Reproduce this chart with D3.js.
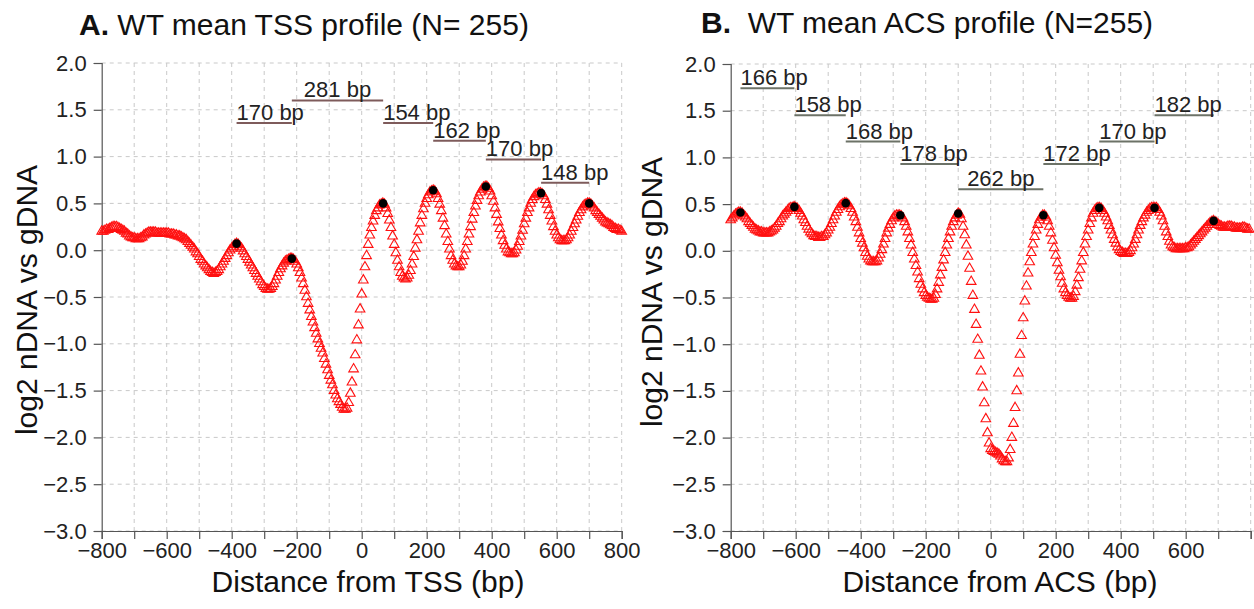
<!DOCTYPE html>
<html>
<head>
<meta charset="utf-8">
<script src="https://cdn.jsdelivr.net/npm/d3@7"></script>
<style>
  body { margin: 0; background: #fff; }
  svg { font-family: "Liberation Sans", Arial, Helvetica, sans-serif; }
</style>
</head>
<body>
<svg id="chart" width="1254" height="609"></svg>
<script>
(function() {

// sampling grid of both profiles (bp)
const step = 5;
const tssStart = -800;
const acsStart = -800;

// A. mean TSS profile, one value every 5 bp from -800 to 800
const tssValues = [
  0.20, 0.20, 0.21, 0.22, 0.22, 0.23, 0.24, 0.25, 0.25, 0.25, 0.24, 0.23, 0.22, 0.21, 0.20, 0.18, 0.17, 0.15, 0.14, 0.13,
  0.13, 0.12, 0.12, 0.12, 0.13, 0.14, 0.16, 0.17, 0.18, 0.19, 0.19, 0.19, 0.19, 0.19, 0.18, 0.18, 0.18, 0.18, 0.18, 0.18,
  0.18, 0.18, 0.17, 0.17, 0.17, 0.16, 0.16, 0.15, 0.15, 0.14, 0.13, 0.12, 0.11, 0.09, 0.07, 0.05, 0.03, 0.01, -0.02, -0.04,
  -0.07, -0.10, -0.12, -0.15, -0.17, -0.19, -0.21, -0.23, -0.24, -0.25, -0.24, -0.23, -0.21, -0.18, -0.15, -0.12, -0.09, -0.06, -0.03, 0.00,
  0.02, 0.04, 0.06, 0.07, 0.06, 0.04, 0.02, -0.01, -0.04, -0.07, -0.10, -0.13, -0.16, -0.19, -0.22, -0.25, -0.28, -0.31, -0.34, -0.37,
  -0.39, -0.41, -0.42, -0.42, -0.41, -0.39, -0.36, -0.32, -0.28, -0.24, -0.20, -0.17, -0.14, -0.12, -0.11, -0.10, -0.09, -0.09, -0.10, -0.12,
  -0.15, -0.19, -0.24, -0.30, -0.36, -0.43, -0.50, -0.57, -0.64, -0.71, -0.77, -0.83, -0.89, -0.95, -1.00, -1.05, -1.10, -1.16, -1.22, -1.28,
  -1.34, -1.39, -1.44, -1.50, -1.55, -1.59, -1.62, -1.65, -1.68, -1.70, -1.70, -1.69, -1.63, -1.53, -1.41, -1.27, -1.12, -0.96, -0.80, -0.63,
  -0.47, -0.32, -0.18, -0.06, 0.06, 0.16, 0.24, 0.31, 0.37, 0.42, 0.45, 0.48, 0.49, 0.50, 0.49, 0.45, 0.39, 0.32, 0.24, 0.15,
  0.06, -0.03, -0.11, -0.18, -0.24, -0.28, -0.30, -0.31, -0.30, -0.27, -0.22, -0.15, -0.07, 0.02, 0.11, 0.20, 0.29, 0.37, 0.44, 0.50,
  0.55, 0.59, 0.62, 0.63, 0.64, 0.63, 0.60, 0.55, 0.49, 0.42, 0.34, 0.26, 0.17, 0.09, 0.01, -0.06, -0.11, -0.15, -0.17, -0.18,
  -0.18, -0.16, -0.12, -0.06, 0.01, 0.09, 0.17, 0.25, 0.33, 0.40, 0.47, 0.53, 0.58, 0.62, 0.65, 0.67, 0.68, 0.68, 0.66, 0.63,
  0.58, 0.52, 0.45, 0.38, 0.30, 0.23, 0.16, 0.10, 0.05, 0.01, -0.02, -0.03, -0.04, -0.04, -0.03, 0.00, 0.04, 0.09, 0.15, 0.21,
  0.28, 0.34, 0.40, 0.45, 0.50, 0.54, 0.57, 0.59, 0.60, 0.61, 0.61, 0.60, 0.58, 0.54, 0.49, 0.43, 0.37, 0.31, 0.25, 0.20,
  0.16, 0.13, 0.11, 0.10, 0.10, 0.10, 0.11, 0.13, 0.16, 0.20, 0.24, 0.28, 0.32, 0.36, 0.40, 0.43, 0.46, 0.48, 0.49, 0.50,
  0.50, 0.49, 0.47, 0.45, 0.42, 0.40, 0.38, 0.36, 0.34, 0.32, 0.30, 0.29, 0.28, 0.27, 0.26, 0.24, 0.23, 0.22, 0.22, 0.21, 0.20
];

// B. mean ACS profile, one value every 5 bp from -800 to 795
const acsValues = [
  0.33, 0.35, 0.37, 0.39, 0.40, 0.41, 0.41, 0.40, 0.38, 0.36, 0.34, 0.31, 0.29, 0.27, 0.25, 0.23, 0.22, 0.21, 0.20, 0.20,
  0.19, 0.19, 0.19, 0.19, 0.20, 0.21, 0.22, 0.24, 0.26, 0.29, 0.31, 0.34, 0.37, 0.39, 0.41, 0.43, 0.45, 0.46, 0.46, 0.47,
  0.46, 0.45, 0.43, 0.40, 0.37, 0.33, 0.30, 0.26, 0.23, 0.20, 0.18, 0.16, 0.15, 0.15, 0.14, 0.14, 0.15, 0.15, 0.17, 0.19,
  0.22, 0.25, 0.29, 0.33, 0.37, 0.41, 0.44, 0.47, 0.49, 0.50, 0.51, 0.51, 0.50, 0.48, 0.45, 0.41, 0.36, 0.31, 0.25, 0.19,
  0.13, 0.08, 0.03, -0.02, -0.06, -0.09, -0.11, -0.12, -0.12, -0.12, -0.11, -0.08, -0.04, 0.01, 0.07, 0.13, 0.19, 0.24, 0.28, 0.32,
  0.35, 0.37, 0.38, 0.38, 0.38, 0.37, 0.35, 0.31, 0.26, 0.20, 0.13, 0.06, -0.02, -0.09, -0.16, -0.23, -0.30, -0.36, -0.41, -0.45,
  -0.48, -0.50, -0.51, -0.52, -0.52, -0.51, -0.47, -0.41, -0.34, -0.26, -0.18, -0.10, -0.02, 0.06, 0.13, 0.20, 0.26, 0.31, 0.35, 0.38,
  0.40, 0.39, 0.34, 0.26, 0.17, 0.06, -0.06, -0.19, -0.33, -0.48, -0.63, -0.79, -0.95, -1.12, -1.29, -1.46, -1.63, -1.80, -1.95, -2.06,
  -2.12, -2.14, -2.15, -2.16, -2.17, -2.18, -2.20, -2.23, -2.25, -2.26, -2.26, -2.22, -2.13, -2.00, -1.85, -1.68, -1.50, -1.31, -1.11, -0.91,
  -0.72, -0.54, -0.38, -0.24, -0.12, -0.02, 0.07, 0.15, 0.22, 0.28, 0.33, 0.36, 0.38, 0.38, 0.36, 0.32, 0.26, 0.19, 0.11, 0.03,
  -0.05, -0.13, -0.21, -0.28, -0.35, -0.41, -0.45, -0.48, -0.50, -0.51, -0.51, -0.49, -0.44, -0.37, -0.29, -0.20, -0.11, -0.02, 0.07, 0.15,
  0.22, 0.29, 0.35, 0.40, 0.43, 0.45, 0.46, 0.46, 0.45, 0.43, 0.40, 0.36, 0.32, 0.27, 0.22, 0.17, 0.12, 0.08, 0.04, 0.01,
  -0.01, -0.02, -0.03, -0.03, -0.03, -0.02, 0.00, 0.03, 0.07, 0.12, 0.17, 0.22, 0.27, 0.31, 0.35, 0.38, 0.41, 0.43, 0.45, 0.46,
  0.46, 0.46, 0.46, 0.44, 0.41, 0.37, 0.32, 0.26, 0.20, 0.15, 0.10, 0.06, 0.04, 0.03, 0.02, 0.02, 0.02, 0.02, 0.02, 0.02,
  0.03, 0.03, 0.04, 0.06, 0.08, 0.10, 0.12, 0.14, 0.16, 0.18, 0.20, 0.22, 0.24, 0.26, 0.28, 0.30, 0.31, 0.32, 0.31, 0.30,
  0.28, 0.27, 0.26, 0.25, 0.25, 0.25, 0.26, 0.26, 0.26, 0.25, 0.25, 0.24, 0.24, 0.24, 0.24, 0.25, 0.25, 0.24, 0.23, 0.23
];

// nucleosome peaks (black dots)
const tssPeaks = [-385, -215, 66, 220, 382, 552, 700];
const tssPeakValues = [0.07, -0.09, 0.50, 0.64, 0.68, 0.61, 0.50];
const acsPeaks = [-770, -604, -446, -278, -100, 162, 334, 504, 686];
const acsPeakValues = [0.41, 0.47, 0.51, 0.38, 0.40, 0.38, 0.46, 0.46, 0.32];

// spacing annotations between consecutive peaks, and their height (log2 units)
const tssSpacings = ["170 bp", "281 bp", "154 bp", "162 bp", "170 bp", "148 bp"];
const tssSpacingLevels = [1.36, 1.60, 1.36, 1.17, 0.97, 0.72];
const acsSpacings = ["166 bp", "158 bp", "168 bp", "178 bp", "262 bp", "172 bp", "170 bp", "182 bp"];
const acsSpacingLevels = [1.74, 1.45, 1.17, 0.93, 0.66, 0.93, 1.17, 1.45];

// axes
const xTicks = d3.range(-800, 801, 100);
const tssTickLabels = [-800, -600, -400, -200, 0, 200, 400, 600, 800];
const acsTickLabels = [-800, -600, -400, -200, 0, 200, 400, 600];
const yTicks = [-3.0, -2.5, -2.0, -1.5, -1.0, -0.5, 0.0, 0.5, 1.0, 1.5, 2.0];

const svg = d3.select("#chart");
svg.append("rect").attr("width", 1254).attr("height", 609).attr("fill", "#fff");

const panels = [
  {
    letter: "A.", title: " WT mean TSS profile (N= 255)", titleX: 79, titleY: 35,
    xTitle: "Distance from TSS (bp)", xTitleX: 368,
    xRange: [101.7, 621.7], yRange: [531, 63], gridRight: 622,
    values: tssValues, start: tssStart,
    peaks: tssPeaks, peakValues: tssPeakValues,
    spacings: tssSpacings, levels: tssSpacingLevels,
    tickLabels: tssTickLabels, bracket: "#7e5b5b",
    yTitleX: 37, yTitleY: 300
  },
  {
    letter: "B.", title: "\u00a0 WT mean ACS profile (N=255)", titleX: 701, titleY: 33,
    xTitle: "Distance from ACS (bp)", xTitleX: 1000,
    xRange: [730.7, 1250.7], yRange: [531, 64], gridRight: 1254,
    values: acsValues, start: acsStart,
    peaks: acsPeaks, peakValues: acsPeakValues,
    spacings: acsSpacings, levels: acsSpacingLevels,
    tickLabels: acsTickLabels, bracket: "#6c7267",
    yTitleX: 662, yTitleY: 292
  }
];

panels.forEach(drawPanel);

function drawPanel(p) {
  const x = d3.scaleLinear().domain([-800, 800]).range(p.xRange);
  const y = d3.scaleLinear().domain([-3, 2]).range(p.yRange);
  const g = svg.append("g");

  // dashed grid
  g.append("g").selectAll("line")
    .data(xTicks.slice(1))
    .enter().append("line")
    .attr("x1", d => x(d)).attr("x2", d => x(d))
    .attr("y1", y(2)).attr("y2", y(-3))
    .attr("stroke", "#c9c9c9").attr("stroke-dasharray", "4,4");
  g.append("g").selectAll("line")
    .data(yTicks)
    .enter().append("line")
    .attr("x1", x(-800)).attr("x2", p.gridRight)
    .attr("y1", d => y(d)).attr("y2", d => y(d))
    .attr("stroke", "#c9c9c9").attr("stroke-dasharray", "4,4");

  // axes
  const yAxis = g.append("g")
    .attr("transform", `translate(${x(-800)},0)`)
    .call(d3.axisLeft(y).tickValues(yTicks).tickFormat(d3.format(".1f")).tickSize(8).tickPadding(7));
  const xAxis = g.append("g")
    .attr("transform", `translate(0,${y(-3)})`)
    .call(d3.axisBottom(x).tickValues(xTicks)
      .tickFormat(d => p.tickLabels.includes(d) ? d3.format("d")(d) : "")
      .tickSize(8).tickPadding(3));
  [yAxis, xAxis].forEach(a => {
    a.selectAll("path, line").attr("stroke", "#555").attr("stroke-width", 1.2);
    a.selectAll("text").attr("font-size", "22px").attr("fill", "#222")
      .attr("font-family", '"Liberation Sans", Arial, sans-serif');
  });

  // profile: open red triangles
  const tri = d3.symbol().type(d3.symbolTriangle).size(40);
  g.append("g").selectAll("path")
    .data(p.values)
    .enter().append("path")
    .attr("d", tri)
    .attr("transform", (d, i) => `translate(${x(p.start + i * step)},${y(d)})`)
    .attr("fill", "none")
    .attr("stroke", "#ff1010")
    .attr("stroke-width", 1.1);

  // peaks
  g.append("g").selectAll("circle")
    .data(p.peaks)
    .enter().append("circle")
    .attr("cx", d => x(d))
    .attr("cy", (d, i) => y(p.peakValues[i]))
    .attr("r", 4.3)
    .attr("fill", "#000");

  // spacing brackets
  const ann = g.append("g");
  p.spacings.forEach((label, i) => {
    const a = p.peaks[i], b = p.peaks[i + 1];
    const ly = y(p.levels[i]);
    ann.append("line")
      .attr("x1", x(a)).attr("x2", x(b))
      .attr("y1", ly).attr("y2", ly)
      .attr("stroke", p.bracket).attr("stroke-width", 2);
    const wide = (b - a) > 200;
    ann.append("text")
      .attr("x", wide ? (x(a) + x(b)) / 2 : x(a))
      .attr("y", ly - 3)
      .attr("text-anchor", wide ? "middle" : "start")
      .attr("font-size", "22px")
      .attr("fill", "#222")
      .text(label);
  });

  // titles
  const t = svg.append("text")
    .attr("x", p.titleX).attr("y", p.titleY)
    .attr("font-size", "30px").attr("fill", "#111")
    .style("white-space", "pre");
  t.append("tspan").attr("font-weight", "bold").text(p.letter);
  t.append("tspan").text(p.title);

  svg.append("text")
    .attr("x", p.xTitleX).attr("y", 592)
    .attr("text-anchor", "middle")
    .attr("font-size", "30px").attr("fill", "#111")
    .text(p.xTitle);

  svg.append("text")
    .attr("transform", `translate(${p.yTitleX},${p.yTitleY}) rotate(-90)`)
    .attr("text-anchor", "middle")
    .attr("font-size", "30px").attr("fill", "#111")
    .text("log2 nDNA vs gDNA");
}

})();
</script>
</body>
</html>
